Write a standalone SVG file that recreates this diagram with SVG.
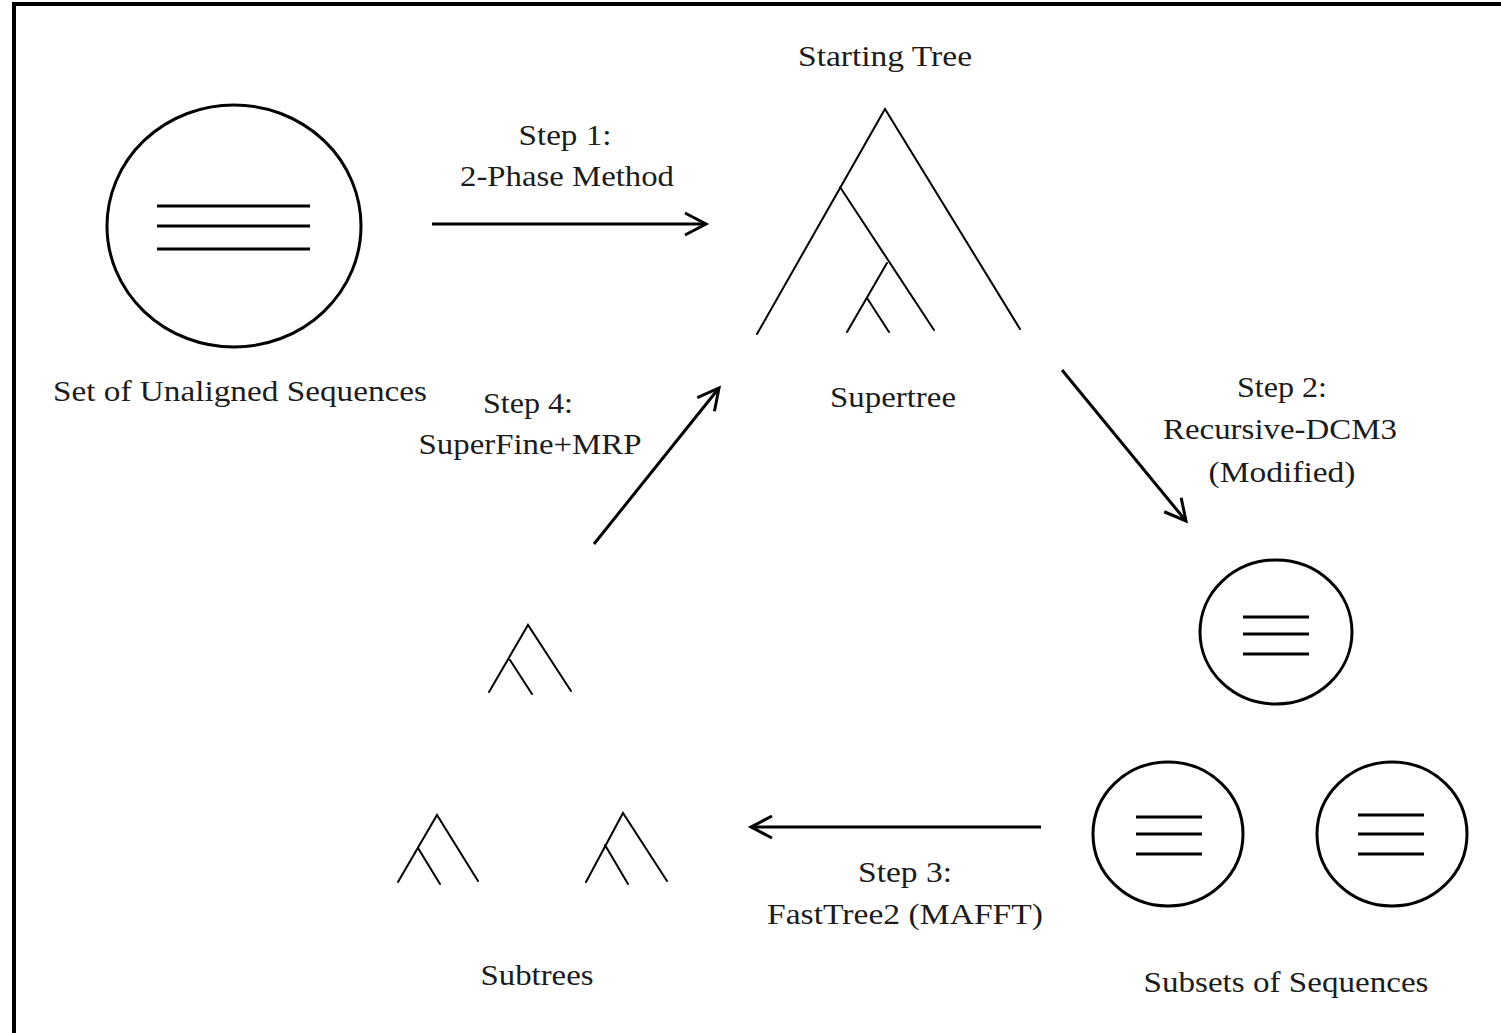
<svg xmlns="http://www.w3.org/2000/svg" width="1501" height="1033" viewBox="0 0 1501 1033">
<style>
.t{font-family:"Liberation Serif","Times New Roman",serif;font-size:29px;fill:#1c1c1c;text-anchor:middle}
.c{fill:none;stroke:#000;stroke-width:3}
.s{stroke:#000;stroke-width:3}
.tr{fill:none;stroke:#000;stroke-width:2;stroke-linecap:round}
.a{fill:none;stroke:#000;stroke-width:3}
</style>
<defs>
<marker id="arr" markerUnits="userSpaceOnUse" markerWidth="30" markerHeight="30" viewBox="-24 -15 26 30" refX="0" refY="0" orient="auto">
<path d="M-21,-11 L0,0 L-21,11" fill="none" stroke="#000" stroke-width="3"/>
</marker>
</defs>
<rect x="0" y="0" width="1501" height="1033" fill="#fff"/>
<g id="frame">
<line x1="14" y1="2" x2="14" y2="1033" stroke="#000" stroke-width="4"/>
<line x1="12" y1="4" x2="1501" y2="4" stroke="#000" stroke-width="4"/>
</g>
<g id="unaligned">
<ellipse class="c" cx="234" cy="226" rx="127" ry="121"/>
<line class="s" x1="157" y1="206" x2="310" y2="206"/>
<line class="s" x1="157" y1="226" x2="310" y2="226"/>
<line class="s" x1="157" y1="249" x2="310" y2="249"/>
<text class="t" x="240" y="401" textLength="374" lengthAdjust="spacingAndGlyphs">Set of Unaligned Sequences</text>
</g>
<g id="supertree">
<text class="t" x="885" y="66" textLength="174" lengthAdjust="spacingAndGlyphs">Starting Tree</text>
<path class="tr" d="M757,334 L885,109 L1020,329 M840,187 L934,330 M887,263 L847,332 M867,298 L889,332"/>
<text class="t" x="893" y="407" textLength="126" lengthAdjust="spacingAndGlyphs">Supertree</text>
</g>
<g id="subsets">
<ellipse class="c" cx="1276" cy="632" rx="76" ry="72"/>
<line class="s" x1="1243" y1="617" x2="1309" y2="617"/>
<line class="s" x1="1243" y1="634" x2="1309" y2="634"/>
<line class="s" x1="1243" y1="654" x2="1309" y2="654"/>
<ellipse class="c" cx="1168" cy="834" rx="75" ry="72"/>
<line class="s" x1="1136" y1="817" x2="1202" y2="817"/>
<line class="s" x1="1136" y1="834" x2="1202" y2="834"/>
<line class="s" x1="1136" y1="854" x2="1202" y2="854"/>
<ellipse class="c" cx="1392" cy="834" rx="75" ry="72"/>
<line class="s" x1="1358" y1="815" x2="1424" y2="815"/>
<line class="s" x1="1358" y1="834" x2="1424" y2="834"/>
<line class="s" x1="1358" y1="854" x2="1424" y2="854"/>
<text class="t" x="1286" y="992" textLength="285" lengthAdjust="spacingAndGlyphs">Subsets of Sequences</text>
</g>
<g id="subtrees">
<path class="tr" d="M489,692 L528,625 L571,691 M510,660 L532,694"/>
<path class="tr" d="M398,882 L437,815 L478,881 M418,848 L440,884"/>
<path class="tr" d="M586,882 L623,813 L667,881 M605,845 L628,884"/>
<text class="t" x="537" y="985" textLength="113" lengthAdjust="spacingAndGlyphs">Subtrees</text>
</g>
<g id="connectors">
<line class="a" x1="432" y1="224" x2="706" y2="224" marker-end="url(#arr)"/>
<line class="a" x1="1062" y1="370" x2="1186" y2="521" marker-end="url(#arr)"/>
<line class="a" x1="1041" y1="827" x2="751" y2="827" marker-end="url(#arr)"/>
<line class="a" x1="594" y1="544" x2="719" y2="388" marker-end="url(#arr)"/>
</g>
<g id="labels">
<text class="t" x="565" y="145" textLength="93" lengthAdjust="spacingAndGlyphs">Step 1:</text>
<text class="t" x="567" y="186" textLength="214" lengthAdjust="spacingAndGlyphs">2-Phase Method</text>
<text class="t" x="1282" y="397" textLength="90" lengthAdjust="spacingAndGlyphs">Step 2:</text>
<text class="t" x="1280" y="439" textLength="234" lengthAdjust="spacingAndGlyphs">Recursive-DCM3</text>
<text class="t" x="1282" y="482" textLength="147" lengthAdjust="spacingAndGlyphs">(Modified)</text>
<text class="t" x="905" y="882" textLength="94" lengthAdjust="spacingAndGlyphs">Step 3:</text>
<text class="t" x="905" y="924" textLength="276" lengthAdjust="spacingAndGlyphs">FastTree2 (MAFFT)</text>
<text class="t" x="528" y="413" textLength="90" lengthAdjust="spacingAndGlyphs">Step 4:</text>
<text class="t" x="530" y="454" textLength="223" lengthAdjust="spacingAndGlyphs">SuperFine+MRP</text>
</g>
</svg>
